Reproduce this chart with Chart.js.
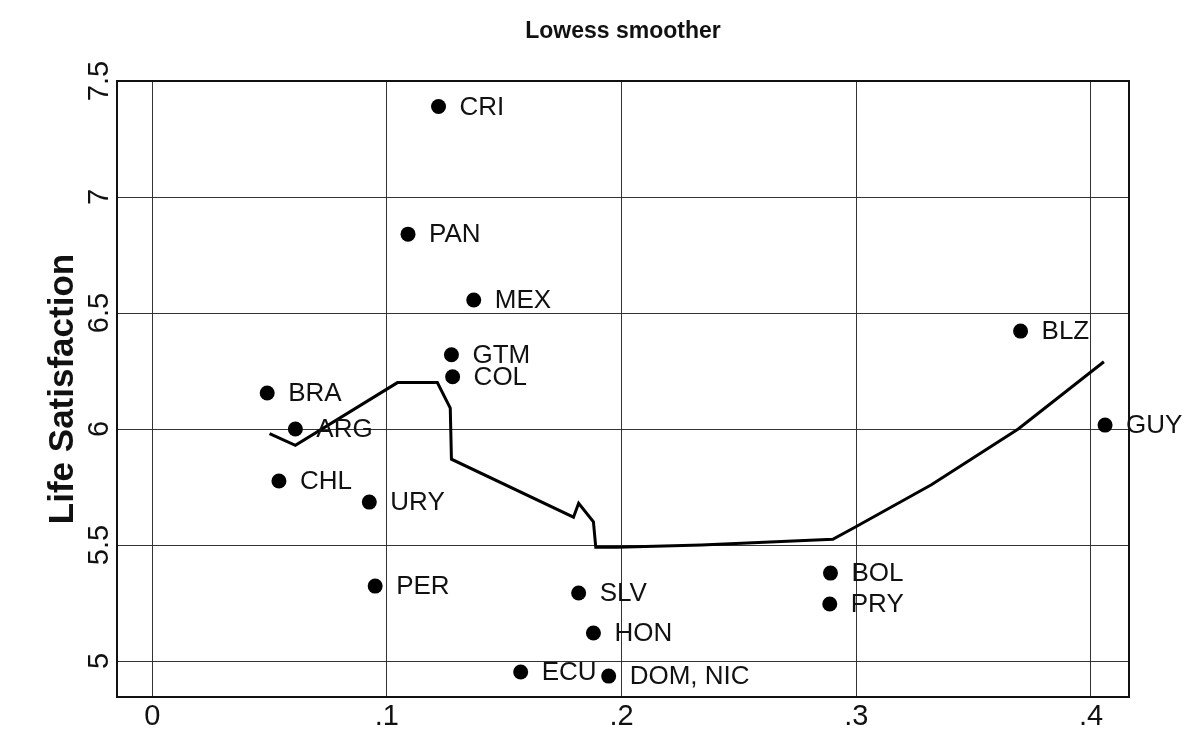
<!DOCTYPE html>
<html>
<head>
<meta charset="utf-8">
<title>Lowess smoother</title>
<script src="https://cdn.jsdelivr.net/npm/chart.js@4.4.1/dist/chart.umd.min.js"></script>
<style>
    html, body { margin: 0; padding: 0; background: #fff; }
    #wrap { width: 1185px; height: 751px; }
</style>
</head>
<body>
<div id="wrap"><canvas id="lowessChart" width="1185" height="751"></canvas></div>
<script>
// Country data (x: share, y: life satisfaction)
const countries = ['CRI', 'PAN', 'MEX', 'GTM', 'COL', 'BRA', 'ARG', 'CHL', 'URY', 'PER',
    'SLV', 'HON', 'ECU', 'DOM, NIC', 'BOL', 'PRY', 'BLZ', 'GUY'];
const xValues = [0.122, 0.109, 0.137, 0.1275, 0.128, 0.049, 0.061, 0.054, 0.0925, 0.095,
    0.1817, 0.188, 0.157, 0.1945, 0.289, 0.2887, 0.370, 0.406];
const yValues = [7.39, 6.84, 6.556, 6.32, 6.225, 6.155, 6.00, 5.776, 5.685, 5.323,
    5.293, 5.121, 4.953, 4.935, 5.379, 5.246, 6.422, 6.017];

// Lowess smoother line
const lowessX = [0.050, 0.061, 0.1045, 0.1215, 0.127, 0.1275, 0.1795, 0.1817, 0.188, 0.189,
    0.198, 0.234, 0.290, 0.300, 0.332, 0.369, 0.4055];
const lowessY = [5.98, 5.93, 6.20, 6.20, 6.09, 5.87, 5.62, 5.68, 5.60, 5.49,
    5.49, 5.50, 5.525, 5.58, 5.76, 6.00, 6.29];

const xTicks = [0, 0.1, 0.2, 0.3, 0.4];
const xTickLabels = ['0', '.1', '.2', '.3', '.4'];
const yTicks = [5, 5.5, 6, 6.5, 7, 7.5];
const yTickLabels = ['5', '5.5', '6', '6.5', '7', '7.5'];

const FONT = '"Liberation Sans", Arial, Helvetica, sans-serif';

const textPlugin = {
    id: 'textPlugin',
    beforeDraw(chart) {
        const ctx = chart.ctx;
        ctx.save();
        ctx.fillStyle = '#fff';
        ctx.fillRect(0, 0, chart.width, chart.height);
        ctx.restore();
    },
    afterDatasetsDraw(chart) {
        const ctx = chart.ctx;
        const meta = chart.getDatasetMeta(0);
        ctx.save();
        ctx.fillStyle = '#111';
        ctx.font = '26px ' + FONT;
        ctx.textBaseline = 'middle';
        ctx.textAlign = 'left';
        meta.data.forEach((pt, i) => {
            ctx.fillText(countries[i], pt.x + 21, pt.y + 1);
        });
        ctx.restore();
    },
    afterDraw(chart) {
        const ctx = chart.ctx;
        const area = chart.chartArea;
        const yScale = chart.scales.y;
        ctx.save();

        // plot frame
        ctx.strokeStyle = '#111';
        ctx.lineWidth = 2;
        ctx.strokeRect(area.left, area.top, area.right - area.left, area.bottom - area.top);

        // rotated y tick labels
        ctx.fillStyle = '#111';
        ctx.font = '29px ' + FONT;
        ctx.textAlign = 'center';
        ctx.textBaseline = 'middle';
        yTicks.forEach((v, i) => {
            const py = yScale.getPixelForValue(v);
            ctx.save();
            ctx.translate(100, py);
            ctx.rotate(-Math.PI / 2);
            ctx.fillText(yTickLabels[i], 0, 0);
            ctx.restore();
        });

        // y axis title
        ctx.font = 'bold 35px ' + FONT;
        ctx.save();
        ctx.translate(63, (area.top + area.bottom) / 2);
        ctx.rotate(-Math.PI / 2);
        ctx.fillText('Life Satisfaction', 0, 0);
        ctx.restore();

        // chart title
        ctx.font = 'bold 23px ' + FONT;
        ctx.fillText('Lowess smoother', (area.left + area.right) / 2, 32);

        ctx.restore();
    }
};

new Chart(document.getElementById('lowessChart'), {
    type: 'scatter',
    data: {
        datasets: [{
            label: 'Countries',
            data: xValues.map((x, i) => ({ x: x, y: yValues[i] })),
            backgroundColor: '#000',
            borderWidth: 0,
            pointRadius: 7.5,
            pointHoverRadius: 7.5
        }, {
            label: 'Lowess',
            data: lowessX.map((x, i) => ({ x: x, y: lowessY[i] })),
            showLine: true,
            borderColor: '#000',
            borderWidth: 3,
            pointRadius: 0,
            tension: 0,
            fill: false
        }]
    },
    options: {
        responsive: false,
        animation: false,
        devicePixelRatio: 1,
        layout: { padding: { top: 81, right: 56, left: 0, bottom: 0 } },
        plugins: {
            legend: { display: false },
            tooltip: { enabled: false },
            title: { display: false }
        },
        scales: {
            x: {
                type: 'linear',
                min: -0.015,
                max: 0.4162,
                afterBuildTicks: scale => { scale.ticks = xTicks.map(v => ({ value: v })); },
                afterFit: scale => { scale.height = 54; },
                border: { display: false },
                grid: { color: '#333', lineWidth: 1, drawTicks: false },
                ticks: {
                    color: '#111',
                    font: { size: 29, family: FONT },
                    padding: 3,
                    maxRotation: 0,
                    callback: (val, i) => xTickLabels[i]
                }
            },
            y: {
                type: 'linear',
                min: 4.845,
                max: 7.5,
                afterBuildTicks: scale => { scale.ticks = yTicks.map(v => ({ value: v })); },
                afterFit: scale => { scale.width = 117; },
                border: { display: false },
                grid: { color: '#333', lineWidth: 1, drawTicks: false },
                ticks: { display: false }
            }
        }
    },
    plugins: [textPlugin]
});
</script>
</body>
</html>
